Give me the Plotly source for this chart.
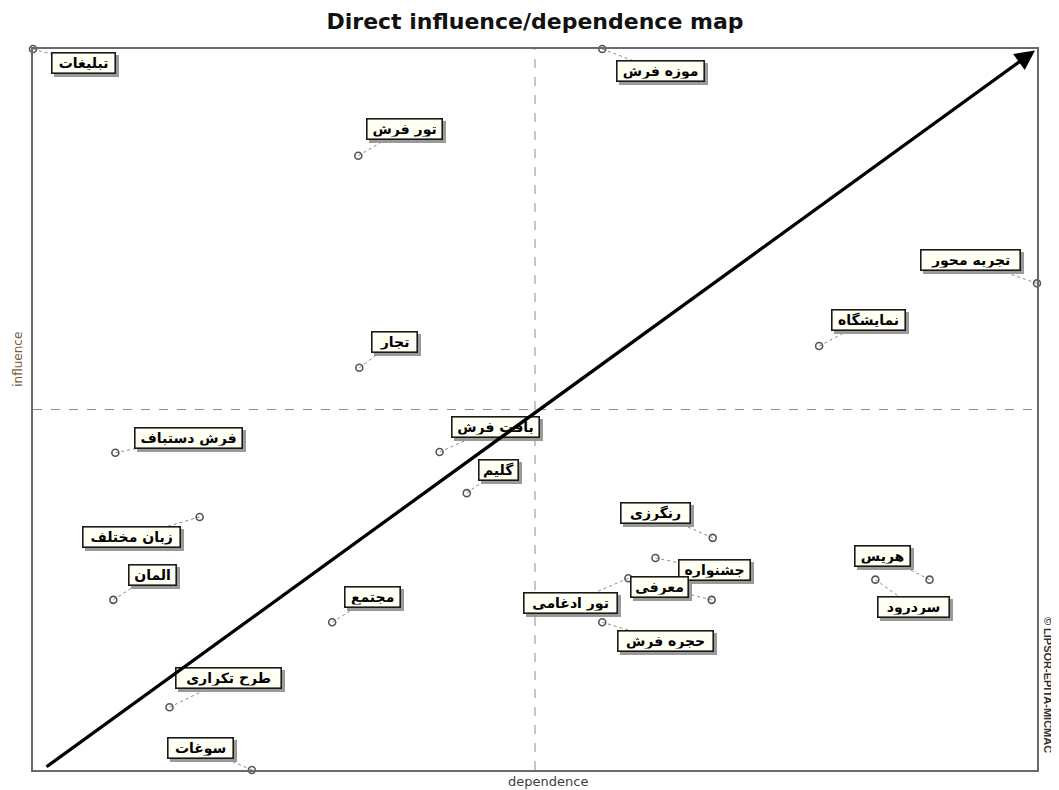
import plotly.graph_objects as go

# ---- data ----
variables = ["تبلیغات", "موزه فرش", "تور فرش", "تجربه محور", "نمایشگاه", "تجار",
             "بافت فرش", "گلیم", "فرش دستباف", "زبان مختلف", "المان", "مجتمع",
             "طرح تکراری", "سوغات", "رنگرزی", "جشنواره", "تور ادغامی", "معرفی",
             "حجره فرش", "هریس", "سردرود"]
dependence = [0.0, 56.7, 32.4, 100.0, 78.3, 32.5,
              40.5, 43.2, 8.2, 16.6, 8.0, 29.8,
              13.6, 21.8, 67.7, 62.0, 59.3, 67.6,
              56.7, 89.3, 83.9]
influence = [100.0, 100.0, 85.2, 67.5, 58.8, 55.8,
             44.1, 38.4, 44.0, 35.1, 23.6, 20.5,
             8.7, 0.0, 32.2, 29.4, 26.6, 23.6,
             20.5, 26.4, 26.4]

# label layout: offsets (px, label centre relative to point; y downward) and box widths (px)
label_dx = [50, 58, 46, -67, 49, 35, 56, 32, 73, -68, 39, 40, 59, -51, -57, 59, -58, -52, 63, -47, 38]
label_dy = [14, 22, -27, -23, -26, -26, -25, -23, -15, 20, -25, -25, -29, -22, -25, 12, 25, -13, 19, -24, 27]
label_w = [58, 82, 70, 94, 68, 40, 82, 34, 102, 92, 42, 50, 100, 60, 64, 66, 88, 52, 90, 50, 66]

# ---- layout geometry (page body has an 8px margin) ----
OFF = 8
W, H = 1059 - OFF, 790 - OFF
ML, MR, MT, MB = 33 - OFF, 22, 49 - OFF, 20
PW, PH = W - ML - MR, H - MT - MB
XR, YR = (0, 100), (0, 100)

fig = go.Figure()

# leader lines (point -> label centre)
lx, ly = [], []
for x, y, dx, dy in zip(dependence, influence, label_dx, label_dy):
    lx += [x, x + dx / PW * (XR[1] - XR[0]), None]
    ly += [y, y - dy / PH * (YR[1] - YR[0]), None]
fig.add_trace(go.Scatter(x=lx, y=ly, mode="lines",
                         line=dict(color="#8a8a8a", width=1, dash="dot"),
                         hoverinfo="skip", showlegend=False, cliponaxis=False))

# points
fig.add_trace(go.Scatter(x=dependence, y=influence, mode="markers",
                         marker=dict(symbol="circle-open", size=7,
                                     color="#555555", line=dict(width=1.6)),
                         text=variables, hoverinfo="text",
                         showlegend=False, cliponaxis=False))

# quadrant lines
fig.add_shape(type="line", x0=50, x1=50, y0=0, y1=100, xref="x", yref="y",
              line=dict(color="#8c8c8c", width=1, dash="dash"))
fig.add_shape(type="line", x0=0, x1=100, y0=50, y1=50, xref="x", yref="y",
              line=dict(color="#8c8c8c", width=1, dash="dash"))

FONT = "DejaVu Sans"
FS = 14
BOXH = 15
annots = []
# label shadows (empty boxes) then labels
for x, y, dx, dy, w in zip(dependence, influence, label_dx, label_dy, label_w):
    annots.append(dict(x=x, y=y, xref="x", yref="y", text=" ",
                       showarrow=True, arrowcolor="rgba(0,0,0,0)", ax=dx, ay=dy,
                       axref="pixel", ayref="pixel", width=w, height=BOXH,
                       xshift=3, yshift=-3,
                       font=dict(family=FONT, size=FS, color="rgba(0,0,0,0)"),
                       bgcolor="#9a9a9a", bordercolor="#9a9a9a", borderwidth=1.6, borderpad=2))
for name, x, y, dx, dy, w in zip(variables, dependence, influence, label_dx, label_dy, label_w):
    annots.append(dict(x=x, y=y, xref="x", yref="y", text="<b>" + name + "</b>",
                       showarrow=True, arrowcolor="rgba(0,0,0,0)", ax=dx, ay=dy,
                       axref="pixel", ayref="pixel", width=w, height=BOXH,
                       font=dict(family=FONT, size=FS, color="#000000"),
                       bgcolor="#fffff4", bordercolor="#1a1a1a", borderwidth=1.6, borderpad=2))

# diagonal arrow
annots.append(dict(x=99.8, y=99.8, ax=1.2, ay=0.3, xref="x", yref="y",
                   axref="x", ayref="y", text="", showarrow=True,
                   arrowhead=2, arrowsize=1.2, arrowwidth=3.3, arrowcolor="#000000"))

# axis titles and credit
annots.append(dict(x=0.513, y=0, xref="paper", yref="paper", yanchor="top", yshift=-2,
                   text="dependence", showarrow=False,
                   font=dict(family="DejaVu Sans", size=13, color="#3d3d3d")))
annots.append(dict(x=0, y=0.569, xref="paper", yref="paper", xanchor="center",
                   yanchor="middle", xshift=-15,
                   text="influence", showarrow=False, textangle=-90,
                   font=dict(family="DejaVu Sans", size=12, color="#7a5a30")))
annots.append(dict(x=1, y=0.118, xref="paper", yref="paper", xanchor="center",
                   yanchor="middle", xshift=11,
                   text="<b>© LIPSOR-EPITA-MICMAC</b>", showarrow=False, textangle=90,
                   font=dict(family="Liberation Sans", size=11, color="#333333")))

fig.update_layout(
    width=W, height=H,
    margin=dict(l=ML, r=MR, t=MT, b=MB),
    paper_bgcolor="white", plot_bgcolor="white",
    title=dict(text="<b>Direct influence/dependence map</b>", x=0.5, xref="paper",
               y=1 - (21 - OFF) / H, yanchor="middle",
               font=dict(family="DejaVu Sans", size=22, color="#111111")),
    xaxis=dict(range=XR, showgrid=False, zeroline=False, showticklabels=False,
               ticks="", showline=True, mirror=True, linecolor="#6a6a6a", linewidth=2),
    yaxis=dict(range=YR, showgrid=False, zeroline=False, showticklabels=False,
               ticks="", showline=True, mirror=True, linecolor="#6a6a6a", linewidth=2),
    annotations=annots,
    showlegend=False,
)

fig.write_html("out.html")
